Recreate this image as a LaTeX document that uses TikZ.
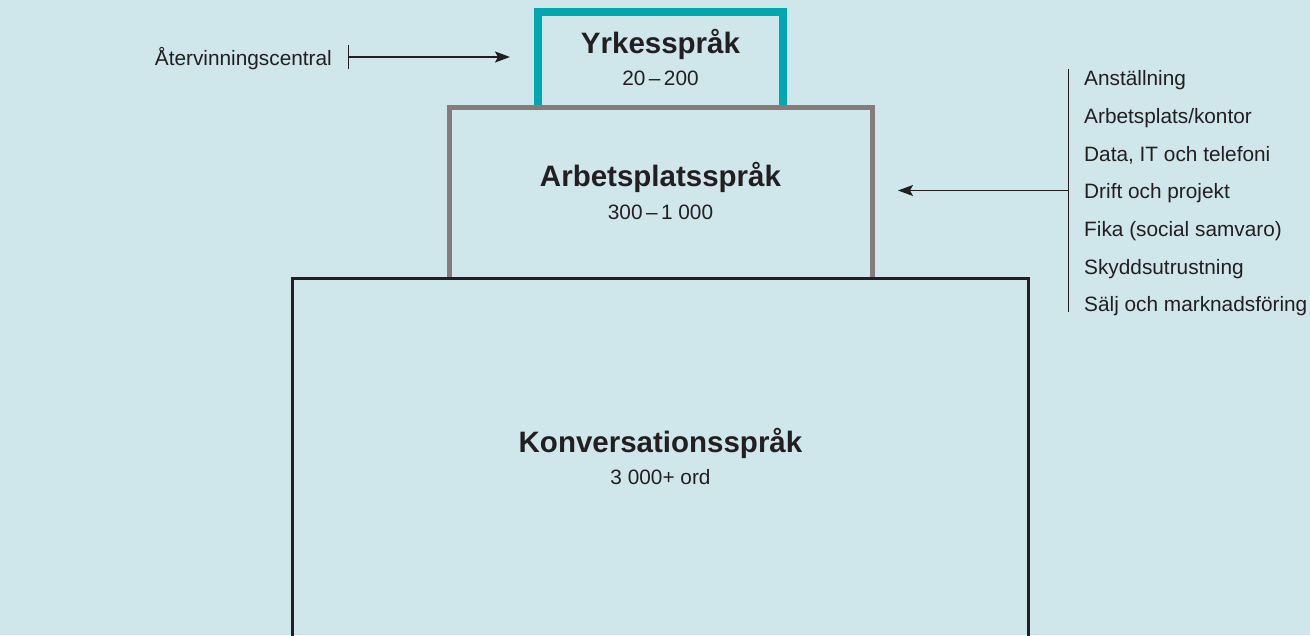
\documentclass[tikz,border=0pt]{standalone}
\usepackage{fontspec}
\setmainfont{Liberation Sans}
\usetikzlibrary{arrows.meta}
\definecolor{bg}{HTML}{CFE7EA}
\definecolor{ink}{HTML}{231F20}
\definecolor{teal}{HTML}{00A6B0}
\definecolor{greybox}{HTML}{857B7B}
\begin{document}
\begin{tikzpicture}[x=1pt,y=-1pt,
  title/.style={font=\fontsize{29.5}{32}\selectfont\bfseries, text=ink, anchor=base, inner sep=0pt},
  sub/.style={font=\fontsize{20.8}{24}\selectfont, text=ink, anchor=base, inner sep=0pt},
  item/.style={font=\fontsize{20.8}{24}\selectfont, text=ink, anchor=base west, inner sep=0pt},
  conn/.style={draw=ink, line width=1.4pt},
  tiparrow/.style={-{Stealth[length=15pt,width=11pt,inset=3pt]}},
  tealbox/.style={draw=teal, line width=8pt},
  greyframe/.style={draw=greybox, line width=5pt},
  blackframe/.style={draw=ink, line width=3pt}
]
\path[fill=bg] (0,0) rectangle (1310,635);
\useasboundingbox (0,0) rectangle (1310,635);

% boxes (open at the bottom)
\draw[tealbox] (538,107) -- (538,11.5) -- (783,11.5) -- (783,107);
\draw[greyframe] (449.5,278) -- (449.5,107) -- (872.5,107) -- (872.5,278);
\draw[blackframe] (292.5,640) -- (292.5,278) -- (1028,278) -- (1028,640);

% titles
\node[title] (yrk) at (660.5,53) {Yrkesspråk};
\node[sub] (yrkn) at (660.5,85) {20\,–\,200};
\node[title] (arb) at (660.5,186) {Arbetsplatsspråk};
\node[sub] (arbn) at (660.5,219) {300\,–\,1 000};
\node[title] (kon) at (660.5,452) {Konversationsspråk};
\node[sub] (konn) at (660.5,484) {3 000+ ord};

% left arrow
\node[item, anchor=base east] (atv) at (332,65) {Återvinningscentral};
\coordinate (lstart) at (348,57);
\coordinate (ltip) at (510,57);
\draw[conn, {Bar[width=24pt]}-{Stealth[length=15pt,width=11pt,inset=3pt]}] (lstart) -- (ltip);

% right list
\node[item] (i1) at (1084,85) {Anställning};
\node[item] (i2) at (1084,123) {Arbetsplats/kontor};
\node[item] (i3) at (1084,161) {Data, IT och telefoni};
\node[item] (i4) at (1084,198.5) {Drift och projekt};
\node[item] (i5) at (1084,236) {Fika (social samvaro)};
\node[item] (i6) at (1084,274) {Skyddsutrustning};
\node[item] (i7) at (1084,311.5) {Sälj och marknadsföring};
\coordinate (rtop) at (1068.5,69);
\coordinate (rbot) at (1068.5,312);
\coordinate (rmid) at (1068.5,190.5);
\coordinate (rtip) at (898,190.5);
\draw[conn] (rtop) -- (rbot);
\draw[conn, tiparrow] (rmid) -- (rtip);
\end{tikzpicture}
\end{document}
